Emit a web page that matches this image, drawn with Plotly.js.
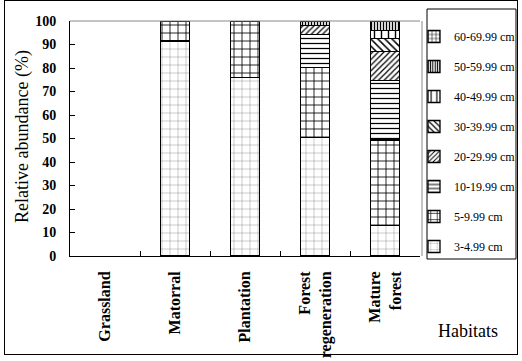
<!DOCTYPE html>
<html>
<head>
<meta charset="utf-8">
<script src="https://cdn.plot.ly/plotly-3.0.1.min.js"></script>
<style>
  html, body { margin: 0; padding: 0; background: #fff; overflow: hidden; }
  #wrap { position: relative; width: 522px; height: 361px; overflow: hidden; }
  #chart { width: 540px; height: 361px; }
  #frame { position: absolute; left: 4px; top: 0; width: 514px; height: 355px; box-sizing: border-box; border: 1px solid #000; pointer-events: none; }
</style>
</head>
<body>
<div id="wrap"><div id="chart"></div><div id="frame"></div></div>
<script>
// ---- data (relative abundance, %) ----
const habitats = ['Grassland', 'Matorral', 'Plantation', 'Forest<br>regeneration', 'Mature<br>forest'];
const sizeClasses = ['3-4.99 cm', '5-9.99 cm', '10-19.99 cm', '20-29.99 cm', '30-39.99 cm', '40-49.99 cm', '50-59.99 cm', '60-69.99 cm'];
const cls3to5   = [0, 91.5, 76.0, 50.5, 13.0];
const cls5to10  = [0,  8.5, 24.0, 29.8, 36.4];
const cls10to20 = [0,  0,    0,   13.9, 25.4];
const cls20to30 = [0,  0,    0,    3.8, 12.1];
const cls30to40 = [0,  0,    0,    0,    5.7];
const cls40to50 = [0,  0,    0,    0,    3.3];
const cls50to60 = [0,  0,    0,    2.0,  4.1];
const cls60to70 = [0,  0,    0,    0,    0];
const seriesValues = [cls3to5, cls5to10, cls10to20, cls20to30, cls30to40, cls40to50, cls50to60, cls60to70];
const yTitle = 'Relative abundance (%)';
const xTitle = 'Habitats';

// ---- styles (fill patterns) ----
const patterns = [
  {shape: '+', fgcolor: '#707070', size: 8, solidity: 0.09},
  {shape: '+', fgcolor: '#000', size: 8, solidity: 0.2},
  {shape: '-', fgcolor: '#000', size: 5, solidity: 0.25},
  {shape: '/', fgcolor: '#000', size: 4, solidity: 0.3},
  {shape: '\\', fgcolor: '#000', size: 5, solidity: 0.3},
  {shape: '|', fgcolor: '#000', size: 7, solidity: 0.2},
  {shape: '|', fgcolor: '#000', size: 3, solidity: 0.45},
  {shape: '+', fgcolor: '#000', size: 5, solidity: 0.25}
];

const serif = 'Liberation Serif, Times New Roman, serif';
const W = 540, H = 361;

const traces = sizeClasses.map((name, i) => ({
  type: 'bar',
  name: name,
  x: habitats,
  // zero-height segments are not drawn (no outline at the baseline)
  y: seriesValues[i].map(v => (v === 0 ? null : v)),
  width: 0.41,
  legendgroup: 'g' + i,
  legendrank: sizeClasses.length - i,
  marker: {
    color: '#fff',
    line: {color: '#000', width: 1.3},
    pattern: Object.assign({bgcolor: '#fff', fillmode: 'replace'}, patterns[i])
  },
  hoverinfo: 'skip'
}));

// plot area in pixels
const L = 70, R = 420, T = 21, B = 256;
const px = v => (v - L) / (R - L);
const py = v => (B - v) / (B - T);

const layout = {
  width: W, height: H,
  margin: {l: L, r: W - R, t: T, b: H - B, pad: 0},
  paper_bgcolor: '#fff', plot_bgcolor: '#fff',
  barmode: 'stack',
  showlegend: true,
  font: {family: serif, color: '#000'},
  xaxis: {
    type: 'category',
    showline: true, linecolor: '#000', linewidth: 1,
    ticks: 'inside', tickson: 'boundaries', ticklen: 5, tickcolor: '#000',
    tickangle: -90,
    ticklabelstandoff: 8,
    tickfont: {family: serif, size: 16, weight: 'bold', color: '#000'},
    showgrid: false, zeroline: false, fixedrange: true, automargin: false
  },
  yaxis: {
    range: [0, 100], dtick: 10,
    showline: true, linecolor: '#000', linewidth: 1,
    ticks: 'inside', ticklen: 5, tickcolor: '#000',
    ticklabelstandoff: 10,
    tickfont: {family: serif, size: 14, weight: 'bold', color: '#000'},
    showgrid: false, zeroline: false, fixedrange: true, automargin: false
  },
  legend: {
    x: px(414), xanchor: 'left',
    y: py(22), yanchor: 'top',
    traceorder: 'grouped',
    tracegroupgap: 11,
    maxheight: 340,
    bgcolor: 'rgba(0,0,0,0)', borderwidth: 0,
    font: {family: serif, size: 12, color: '#000'}
  },
  shapes: [
    {type: 'line', xref: 'paper', yref: 'paper', x0: 0, x1: 1, y0: 1, y1: 1, line: {color: '#888', width: 1}},
    {type: 'line', xref: 'paper', yref: 'paper', x0: px(422), x1: px(422), y0: 0, y1: 1, line: {color: '#888', width: 1}},
    {type: 'rect', xref: 'paper', yref: 'paper', x0: px(427), x1: px(516), y0: py(259), y1: py(9), line: {color: '#000', width: 1}, fillcolor: 'rgba(0,0,0,0)'}
  ],
  annotations: [
    {text: yTitle, xref: 'paper', yref: 'paper', x: px(22), y: py(137),
     xanchor: 'center', yanchor: 'middle', textangle: -90, showarrow: false,
     font: {family: serif, size: 18, color: '#000'}},
    {text: xTitle, xref: 'paper', yref: 'paper', x: px(468), y: py(331),
     xanchor: 'center', yanchor: 'middle', showarrow: false,
     font: {family: serif, size: 18, color: '#000'}}
  ]
};

Plotly.newPlot('chart', traces, layout, {staticPlot: true, displayModeBar: false});
</script>
</body>
</html>
